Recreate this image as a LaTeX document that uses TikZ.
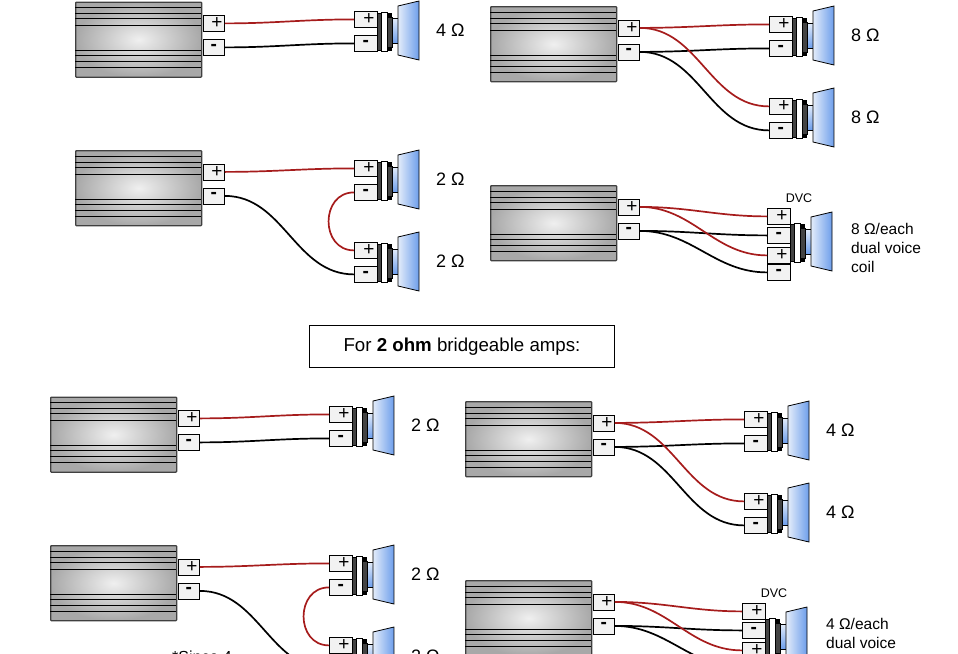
\documentclass[tikz,border=0pt]{standalone}
\usepackage{fontspec}
\setmainfont{Liberation Sans}

\definecolor{wirered}{HTML}{A61C1C}
\definecolor{coneblue}{HTML}{6D9EEB}
\definecolor{conelight}{HTML}{E3ECFA}
\definecolor{magnet}{HTML}{434343}

\tikzset{
    ampbox/.style={rectangle, draw=black!75, line width=1.3pt, rounded corners=0.8pt, inner color=black!6, outer color=black!34, minimum width=126, minimum height=75, inner sep=0pt, anchor=north west},
    termbox/.style={rectangle, draw=black, line width=0.8pt, fill=black!5, minimum height=16, inner sep=0pt, anchor=north west, font=\fontsize{19}{19}\selectfont},
    ampterm/.style={termbox, minimum width=21},
    spkterm/.style={termbox, minimum width=23},
    redwire/.style={wirered, line width=1.7pt},
    blackwire/.style={black, line width=1.7pt},
    ohmlabel/.style={anchor=west, inner sep=0pt, font=\fontsize{18}{18}\selectfont},
    dvclabel/.style={anchor=north west, align=left, inner sep=0pt, font=\fontsize{15.5}{19}\selectfont},
    smalllabel/.style={inner sep=0pt, font=\fontsize{12.5}{13}\selectfont}
}

% terminal signs
\newcommand{\plussign}{\hspace{6pt}\raisebox{-0.5pt}{+}}
\newcommand{\minussign}{\raisebox{-2.5pt}{\textbf{-}}}

% amplifier: name, left, top
\newcommand{\ampunit}[3]{
    \node [ampbox] (#1) at (#2,#3) {};
    \foreach \yy in {6,12,17,24,49,54,60,66}
        \draw [black, line width=0.8pt] (#2,#3+\yy) -- (#2+126,#3+\yy);
    \node [ampterm] (#1p) at (#2+128,#3+13.5) {\plussign};
    \node [ampterm] (#1m) at (#2+128,#3+37.5) {\minussign};
}

% magnet and cone: left, top of the + terminal
\newcommand{\spkbody}[2]{
    \fill [black] (#1+23,#2+1.5) rectangle (#1+38,#2+39.5);
    \fill [magnet, draw=black] (#1+23,#2+2) rectangle (#1+27,#2+39);
    \draw [black, fill=white, line width=0.7pt] (#1+27,#2+1) rectangle (#1+33,#2+40);
    \fill [magnet, draw=black] (#1+33,#2+6) rectangle (#1+38,#2+36);
    \draw [black, top color=conelight, bottom color=coneblue, line width=0.7pt] (#1+38,#2+7) rectangle (#1+44,#2+32);
    \draw [black, left color=conelight, right color=coneblue, line width=0.8pt] (#1+44,#2-5) -- (#1+65,#2-10) -- (#1+65,#2+49) -- (#1+44,#2+44) -- cycle;
}

% speaker with one coil: name, left, top
\newcommand{\spkunit}[3]{
    \spkbody{#2}{#3}
    \node [spkterm] (#1p) at (#2,#3) {\plussign};
    \node [spkterm] (#1m) at (#2,#3+24) {\minussign};
}

% speaker with two coils: name, left, top of first terminal
\newcommand{\dvcunit}[3]{
    \spkbody{#2}{#3+14}
    \node [spkterm] (#1pa) at (#2,#3) {\plussign};
    \node [spkterm] (#1ma) at (#2,#3+19) {\minussign};
    \node [spkterm] (#1pb) at (#2,#3+39) {\plussign};
    \node [spkterm] (#1mb) at (#2,#3+56) {\minussign};
}

\begin{document}
\begin{tikzpicture}[x=1pt, y=-1pt]
    \useasboundingbox (0,0) rectangle (958,653);

    % top half
    \ampunit{a1}{75}{1.5}
    \spkunit{s1}{354}{11}
    \node [ohmlabel] (t1) at (436,30) {4 Ω};
    \draw [redwire] (a1p.east) to [out=0, in=180] (s1p.west);
    \draw [blackwire] (a1m.east) to [out=0, in=180] (s1m.west);

    \ampunit{a2}{75}{150}
    \spkunit{s2}{354}{160}
    \spkunit{s3}{354}{242}
    \node [ohmlabel] (t2) at (436,179) {2 Ω};
    \node [ohmlabel] (t3) at (436,261) {2 Ω};
    \draw [redwire] (a2p.east) to [out=0, in=180] (s2p.west);
    \draw [redwire] (s2m.west) to [out=180, in=180, looseness=1.5] (s3p.west);
    \draw [blackwire] (a2m.east) to [out=0, in=180] (s3m.west);

    \ampunit{a3}{490}{6}
    \spkunit{s4}{769}{16}
    \spkunit{s5}{769}{98}
    \node [ohmlabel] (t4) at (851,35) {8 Ω};
    \node [ohmlabel] (t5) at (851,117) {8 Ω};
    \draw [blackwire] (a3m.east) to [out=0, in=180] (s4m.west);
    \draw [blackwire] (a3m.east) to [out=0, in=180] (s5m.west);
    \draw [redwire] (a3p.east) to [out=0, in=180] (s4p.west);
    \draw [redwire] (a3p.east) to [out=0, in=180] (s5p.west);

    \ampunit{a4}{490}{185}
    \dvcunit{d1}{767}{208}
    \node [smalllabel] (v1) at (799,198) {DVC};
    \node [dvclabel] (t6) at (851,223) {8 Ω/each\\dual voice\\coil};
    \draw [blackwire] (a4m.east) to [out=0, in=180] (d1ma.west);
    \draw [blackwire] (a4m.east) to [out=0, in=180] (d1mb.west);
    \draw [redwire] (a4p.east) to [out=0, in=180] (d1pa.west);
    \draw [redwire] (a4p.east) to [out=0, in=180] (d1pb.west);

    % banner
    \node [draw=black, line width=0.8pt, minimum width=305, minimum height=42, inner sep=0pt, font=\fontsize{18.7}{19}\selectfont] (b1) at (462,346.5) {For \textbf{2 ohm} bridgeable amps:};

    % bottom half
    \ampunit{a5}{50}{396.5}
    \spkunit{s6}{329}{406}
    \node [ohmlabel] (t7) at (411,425) {2 Ω};
    \draw [redwire] (a5p.east) to [out=0, in=180] (s6p.west);
    \draw [blackwire] (a5m.east) to [out=0, in=180] (s6m.west);

    \ampunit{a6}{50}{545}
    \spkunit{s7}{329}{555}
    \spkunit{s8}{329}{637}
    \node [ohmlabel] (t8) at (411,574) {2 Ω};
    \node [ohmlabel] (t9) at (411,656) {2 Ω};
    \node [anchor=north west, inner sep=0pt, font=\fontsize{16}{19}\selectfont] (n1) at (172,651) {*Since 4};
    \draw [redwire] (a6p.east) to [out=0, in=180] (s7p.west);
    \draw [redwire] (s7m.west) to [out=180, in=180, looseness=1.5] (s8p.west);
    \draw [blackwire] (a6m.east) to [out=0, in=180] (s8m.west);

    \ampunit{a7}{465}{401}
    \spkunit{s9}{744}{411}
    \spkunit{s10}{744}{493}
    \node [ohmlabel] (t10) at (826,430) {4 Ω};
    \node [ohmlabel] (t11) at (826,512) {4 Ω};
    \draw [blackwire] (a7m.east) to [out=0, in=180] (s9m.west);
    \draw [blackwire] (a7m.east) to [out=0, in=180] (s10m.west);
    \draw [redwire] (a7p.east) to [out=0, in=180] (s9p.west);
    \draw [redwire] (a7p.east) to [out=0, in=180] (s10p.west);

    \ampunit{a8}{465}{580}
    \dvcunit{d2}{742}{603}
    \node [smalllabel] (v2) at (774,593) {DVC};
    \node [dvclabel] (t12) at (826,618) {4 Ω/each\\dual voice\\coil};
    \draw [blackwire] (a8m.east) to [out=0, in=180] (d2ma.west);
    \draw [blackwire] (a8m.east) to [out=0, in=180] (d2mb.west);
    \draw [redwire] (a8p.east) to [out=0, in=180] (d2pa.west);
    \draw [redwire] (a8p.east) to [out=0, in=180] (d2pb.west);
\end{tikzpicture}
\end{document}
